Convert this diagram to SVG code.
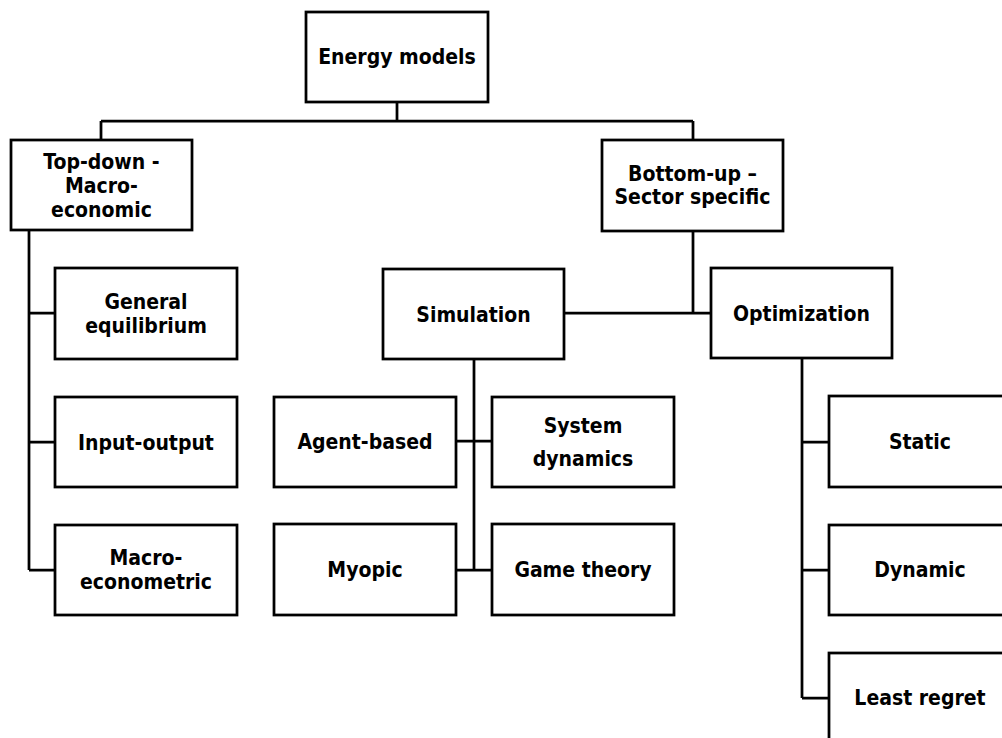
<svg xmlns="http://www.w3.org/2000/svg" width="1002" height="738" viewBox="0 0 1002 738">
  <style>
    .box { fill: #ffffff; stroke: #000000; stroke-width: 2.75; }
    .wire { fill: none; stroke: #000000; stroke-width: 2.75; }
    .lbl { font-family: "DejaVu Sans Condensed", "DejaVu Sans", Verdana, sans-serif; font-weight: bold; font-size: 21px; fill: #000000; text-anchor: middle; }
  </style>
  <rect width="1002" height="738" fill="#ffffff"/>

  <!-- connectors -->
  <g id="connectors" class="wire">
    <path d="M397,102 V121 M101,121 H693 M101,121 V140 M693,121 V140"/>
    <path d="M29,230 V570 M29,313 H55 M29,442 H55 M29,570 H55"/>
    <path d="M693,231 V313 M564,313 H711"/>
    <path d="M474,359 V570 M456,441 H492 M456,570 H492"/>
    <path d="M802,358 V698 M802,442 H829 M802,570 H829 M802,698 H829"/>
  </g>

  <g id="energy-models">
    <rect class="box" x="306" y="12" width="182" height="90"/>
    <text class="lbl" x="397" y="64">Energy models</text>
  </g>
  <g id="top-down">
    <rect class="box" x="11" y="140" width="181" height="90"/>
    <text class="lbl" x="101.5" y="169">Top-down -</text>
    <text class="lbl" x="101.5" y="193">Macro-</text>
    <text class="lbl" x="101.5" y="217">economic</text>
  </g>
  <g id="bottom-up">
    <rect class="box" x="602" y="140" width="181" height="91"/>
    <text class="lbl" x="692.5" y="181">Bottom-up –</text>
    <text class="lbl" x="692.5" y="204">Sector specific</text>
  </g>
  <g id="general-equilibrium">
    <rect class="box" x="55" y="268" width="182" height="91"/>
    <text class="lbl" x="146" y="309">General</text>
    <text class="lbl" x="146" y="333">equilibrium</text>
  </g>
  <g id="input-output">
    <rect class="box" x="55" y="397" width="182" height="90"/>
    <text class="lbl" x="146" y="450">Input-output</text>
  </g>
  <g id="macro-econometric">
    <rect class="box" x="55" y="525" width="182" height="90"/>
    <text class="lbl" x="146" y="565">Macro-</text>
    <text class="lbl" x="146" y="589">econometric</text>
  </g>
  <g id="simulation">
    <rect class="box" x="383" y="269" width="181" height="90"/>
    <text class="lbl" x="473.5" y="322">Simulation</text>
  </g>
  <g id="optimization">
    <rect class="box" x="711" y="268" width="181" height="90"/>
    <text class="lbl" x="801.5" y="321">Optimization</text>
  </g>
  <g id="agent-based">
    <rect class="box" x="274" y="397" width="182" height="90"/>
    <text class="lbl" x="365" y="449">Agent-based</text>
  </g>
  <g id="system-dynamics">
    <rect class="box" x="492" y="397" width="182" height="90"/>
    <text class="lbl" x="583" y="433">System</text>
    <text class="lbl" x="583" y="466">dynamics</text>
  </g>
  <g id="myopic">
    <rect class="box" x="274" y="524" width="182" height="91"/>
    <text class="lbl" x="365" y="577">Myopic</text>
  </g>
  <g id="game-theory">
    <rect class="box" x="492" y="524" width="182" height="91"/>
    <text class="lbl" x="583" y="577">Game theory</text>
  </g>
  <g id="static">
    <rect class="box" x="829" y="396" width="182" height="91"/>
    <text class="lbl" x="920" y="449">Static</text>
  </g>
  <g id="dynamic">
    <rect class="box" x="829" y="525" width="182" height="90"/>
    <text class="lbl" x="920" y="577">Dynamic</text>
  </g>
  <g id="least-regret">
    <rect class="box" x="829" y="653" width="182" height="90"/>
    <text class="lbl" x="920" y="705">Least regret</text>
  </g>
</svg>
